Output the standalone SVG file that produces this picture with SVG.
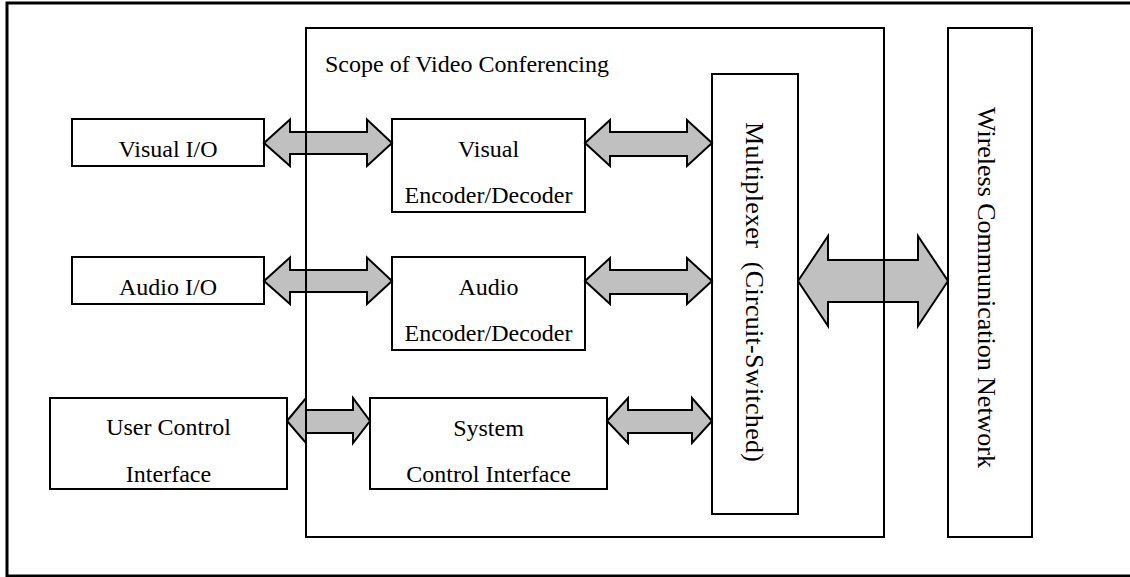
<svg xmlns="http://www.w3.org/2000/svg" width="1130" height="577" viewBox="0 0 1130 577">
<style>
.box{fill:#fff;stroke:#000;stroke-width:2}
.frame{fill:none;stroke:#000;stroke-width:2}
.arr{fill:#c0c0c0;stroke:#000;stroke-width:2;stroke-linejoin:miter}
text{font-family:"Liberation Serif","Times New Roman",serif;font-size:24px;fill:#000}
.c{text-anchor:middle}
.v{font-size:26px}
</style>
<rect width="1130" height="577" fill="#fff"/>
<rect id="border" x="7" y="3" width="1130" height="573" fill="none" stroke="#000" stroke-width="3"/>
<g id="visual-io"><rect class="box" x="72" y="119" width="192" height="47"/><text class="c" x="168" y="157">Visual I/O</text></g>
<g id="audio-io"><rect class="box" x="72" y="257" width="192" height="47"/><text class="c" x="168" y="295">Audio I/O</text></g>
<g id="user-control"><rect class="box" x="50" y="398" width="237" height="91"/><text class="c" x="168.5" y="435">User Control</text><text class="c" x="168.5" y="482">Interface</text></g>
<g id="visual-codec"><rect class="box" x="392" y="119" width="193" height="93"/><text class="c" x="488.5" y="157">Visual</text><text class="c" x="488.5" y="203">Encoder/Decoder</text></g>
<g id="audio-codec"><rect class="box" x="392" y="257" width="193" height="93"/><text class="c" x="488.5" y="295">Audio</text><text class="c" x="488.5" y="341">Encoder/Decoder</text></g>
<g id="system-control"><rect class="box" x="370" y="398" width="237" height="91"/><text class="c" x="488.5" y="436">System</text><text class="c" x="488.5" y="482">Control Interface</text></g>
<g id="multiplexer"><rect class="box" x="712" y="74" width="86" height="440"/><text class="v" transform="translate(745.5,122) rotate(90)" textLength="340" lengthAdjust="spacing" xml:space="preserve">Multiplexer  (Circuit-Switched)</text></g>
<g id="wireless"><rect class="box" x="948" y="28" width="84" height="509"/><text class="v" transform="translate(978,107) rotate(90)" textLength="361" lengthAdjust="spacing">Wireless Communication Network</text></g>
<g id="connectors">
<polygon class="arr" points="264,143 290,119.5 290,132 367,132 367,119.5 392,143 367,166 367,154 290,154 290,166"/>
<polygon class="arr" points="585,143 610,120 610,132 687,132 687,120 712,143 687,166 687,156 610,156 610,166"/>
<polygon class="arr" points="264,281 290,257.5 290,270 367,270 367,257.5 392,281 367,304 367,292 290,292 290,304"/>
<polygon class="arr" points="585,281 610,258 610,270 687,270 687,258 712,281 687,304 687,294 610,294 610,304"/>
<polygon class="arr" points="287,421 306,398 306,410 353,410 353,398 370,421 353,443 353,433 306,433 306,443"/>
<polygon class="arr" points="607,421 628,398 628,410 692,410 692,398 712,421 692,443 692,433 628,433 628,443"/>
<polygon class="arr" points="798,281 828,236 828,260 918,260 918,236 948,281 918,326 918,302 828,302 828,326"/>
</g>
<g id="scope"><rect class="frame" x="306" y="28" width="578" height="509"/><text x="325" y="72">Scope of Video Conferencing</text></g>
</svg>
